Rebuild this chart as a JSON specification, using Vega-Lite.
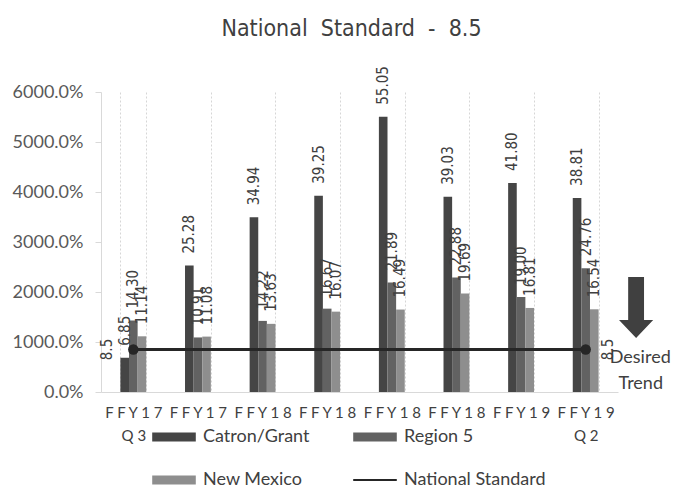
{
  "$schema": "https://vega.github.io/schema/vega-lite/v6.json",
  "width": 517,
  "height": 300,
  "autosize": {"type": "none"},
  "padding": {"left": 101, "top": 92, "right": 57, "bottom": 99},
  "background": "white",
  "title": {
    "text": "National\u00a0 Standard\u00a0 -\u00a0 8.5",
    "font": "DejaVu Sans Condensed",
    "fontSize": 23,
    "fontWeight": "normal",
    "color": "#404040",
    "anchor": "middle",
    "dx": -8,
    "offset": 25
  },
  "datasets": {
    "bars": [
      {"quarter": "FFY17 Q3", "series": "Catron/Grant", "value": 6.85},
      {"quarter": "FFY17 Q3", "series": "Region 5", "value": 14.30},
      {"quarter": "FFY17 Q3", "series": "New Mexico", "value": 11.14},
      {"quarter": "FFY17 Q4", "series": "Catron/Grant", "value": 25.28},
      {"quarter": "FFY17 Q4", "series": "Region 5", "value": 10.91},
      {"quarter": "FFY17 Q4", "series": "New Mexico", "value": 11.08},
      {"quarter": "FFY18 Q1", "series": "Catron/Grant", "value": 34.94},
      {"quarter": "FFY18 Q1", "series": "Region 5", "value": 14.22},
      {"quarter": "FFY18 Q1", "series": "New Mexico", "value": 13.63},
      {"quarter": "FFY18 Q2", "series": "Catron/Grant", "value": 39.25},
      {"quarter": "FFY18 Q2", "series": "Region 5", "value": 16.67},
      {"quarter": "FFY18 Q2", "series": "New Mexico", "value": 16.07},
      {"quarter": "FFY18 Q3", "series": "Catron/Grant", "value": 55.05},
      {"quarter": "FFY18 Q3", "series": "Region 5", "value": 21.89},
      {"quarter": "FFY18 Q3", "series": "New Mexico", "value": 16.49},
      {"quarter": "FFY18 Q4", "series": "Catron/Grant", "value": 39.03},
      {"quarter": "FFY18 Q4", "series": "Region 5", "value": 22.88},
      {"quarter": "FFY18 Q4", "series": "New Mexico", "value": 19.69},
      {"quarter": "FFY19 Q1", "series": "Catron/Grant", "value": 41.80},
      {"quarter": "FFY19 Q1", "series": "Region 5", "value": 19.00},
      {"quarter": "FFY19 Q1", "series": "New Mexico", "value": 16.81},
      {"quarter": "FFY19 Q2", "series": "Catron/Grant", "value": 38.81},
      {"quarter": "FFY19 Q2", "series": "Region 5", "value": 24.76},
      {"quarter": "FFY19 Q2", "series": "New Mexico", "value": 16.54}
    ],
    "national": [
      {"quarter": "FFY17 Q3", "value": 8.5},
      {"quarter": "FFY17 Q4", "value": 8.5},
      {"quarter": "FFY18 Q1", "value": 8.5},
      {"quarter": "FFY18 Q2", "value": 8.5},
      {"quarter": "FFY18 Q3", "value": 8.5},
      {"quarter": "FFY18 Q4", "value": 8.5},
      {"quarter": "FFY19 Q1", "value": 8.5},
      {"quarter": "FFY19 Q2", "value": 8.5}
    ]
  },
  "config": {
    "view": {"stroke": null},
    "font": "Lato"
  },
  "resolve": {"scale": {"x": "independent"}},
  "layer": [
    {
      "layer": [
        {
          "data": {"name": "bars"},
          "mark": {"type": "bar"},
          "encoding": {
            "x": {
              "field": "quarter",
              "type": "nominal",
              "scale": {
                "domain": ["FFY17 Q3", "FFY17 Q4", "FFY18 Q1", "FFY18 Q2", "FFY18 Q3", "FFY18 Q4", "FFY19 Q1", "FFY19 Q2"],
                "paddingInner": 0.6,
                "paddingOuter": 0.3
              },
              "axis": {
                "title": null,
                "labelAngle": 0,
                "tickBand": "extent",
                "ticks": false,
                "grid": true,
                "gridColor": "#d6d6d6",
                "gridDash": [2, 2],
                "gridWidth": 1,
                "domainColor": "#d9d9d9",
                "labelFont": "Lato",
                "labelFontSize": 15,
                "labelColor": "#404040",
                "labelPadding": 13,
                "labelLineHeight": 23,
                "labelBaseline": "top",
                "labelExpr": "(datum.label == 'FFY17 Q3' || datum.label == 'FFY19 Q2') ? [join(split(split(datum.label, ' ')[0], ''), ' '), join(split(split(datum.label, ' ')[1], ''), ' ')] : join(split(split(datum.label, ' ')[0], ''), ' ')"
              }
            },
            "xOffset": {
              "field": "series",
              "type": "nominal",
              "scale": {"domain": ["Catron/Grant", "Region 5", "New Mexico"], "paddingInner": 0, "paddingOuter": 0}
            },
            "y": {
              "field": "value",
              "type": "quantitative",
              "scale": {"domain": [0, 60], "nice": false},
              "axis": {
                "title": null,
                "format": ".1%",
                "values": [0, 10, 20, 30, 40, 50, 60],
                "labelOverlap": false,
                "grid": false,
                "domainColor": "#d9d9d9",
                "tickColor": "#d9d9d9",
                "tickSize": 6,
                "labelPadding": 12,
                "labelFont": "Lato",
                "labelFontSize": 18,
                "labelColor": "#595959"
              }
            },
            "color": {
              "field": "series",
              "type": "nominal",
              "scale": {
                "domain": ["Catron/Grant", "Region 5", "New Mexico", "National Standard"],
                "range": ["#454545", "#626262", "#8e8e8e", "#262626"]
              },
              "legend": {
                "title": null,
                "orient": "none",
                "legendX": 51,
                "legendY": 323,
                "direction": "horizontal",
                "columns": 2,
                "columnPadding": 43,
                "rowPadding": 12,
                "symbolType": "M-1,-0.21H1V0.21H-1Z",
                "symbolSize": 1900,
                "symbolStrokeWidth": 0,
                "symbolOpacity": 1,
                "labelFont": "Lato",
                "labelFontSize": 18,
                "labelColor": "#404040",
                "labelOffset": 7,
                "labelLimit": 300,
                "encode": {
                  "symbols": {
                    "update": {
                      "shape": {"signal": "datum.label == 'National Standard' ? 'M-1,-0.05H1V0.05H-1Z' : 'M-1,-0.21H1V0.21H-1Z'"}
                    }
                  }
                }
              }
            }
          }
        },
        {
          "data": {"name": "bars"},
          "mark": {
            "type": "text",
            "angle": 270,
            "align": "left",
            "baseline": "middle",
            "dx": 12,
            "font": "DejaVu Sans Condensed",
            "fontSize": 15,
            "color": "#404040"
          },
          "encoding": {
            "x": {"field": "quarter", "type": "nominal"},
            "xOffset": {"field": "series", "type": "nominal"},
            "y": {"field": "value", "type": "quantitative"},
            "text": {"field": "value", "type": "quantitative", "format": ".2f"}
          }
        },
        {
          "data": {"name": "national"},
          "mark": {"type": "line", "color": "#262626", "strokeWidth": 3},
          "encoding": {
            "x": {"field": "quarter", "type": "nominal"},
            "y": {"field": "value", "type": "quantitative"}
          }
        },
        {
          "data": {"name": "national"},
          "transform": [{"filter": "datum.quarter == 'FFY17 Q3' || datum.quarter == 'FFY19 Q2'"}],
          "mark": {"type": "circle", "color": "#262626", "opacity": 1, "size": 110},
          "encoding": {
            "x": {"field": "quarter", "type": "nominal"},
            "y": {"field": "value", "type": "quantitative"}
          }
        },
        {
          "data": {"name": "national"},
          "transform": [{"filter": "datum.quarter == 'FFY17 Q3'"}],
          "mark": {
            "type": "text",
            "angle": 270,
            "align": "center",
            "baseline": "middle",
            "dy": -26,
            "font": "DejaVu Sans Condensed",
            "fontSize": 15,
            "color": "#404040"
          },
          "encoding": {
            "x": {"field": "quarter", "type": "nominal"},
            "y": {"field": "value", "type": "quantitative"},
            "text": {"field": "value", "type": "quantitative", "format": ".1f"}
          }
        },
        {
          "data": {"name": "national"},
          "transform": [{"filter": "datum.quarter == 'FFY19 Q2'"}],
          "mark": {
            "type": "text",
            "angle": 270,
            "align": "center",
            "baseline": "middle",
            "dy": 22,
            "font": "DejaVu Sans Condensed",
            "fontSize": 15,
            "color": "#404040"
          },
          "encoding": {
            "x": {"field": "quarter", "type": "nominal"},
            "y": {"field": "value", "type": "quantitative"},
            "text": {"field": "value", "type": "quantitative", "format": ".1f"}
          }
        }
      ]
    },
    {
      "data": {"values": [{}]},
      "layer": [
        {
          "mark": {
            "type": "point",
            "shape": "M-0.26,-1H0.26V0.41H0.56L0,1L-0.56,0.41H-0.26Z",
            "filled": true,
            "color": "#404040",
            "opacity": 1,
            "size": 3721
          },
          "encoding": {
            "x": {"datum": 1.035, "type": "quantitative", "scale": {"domain": [0, 1], "nice": false, "zero": false}, "axis": null},
            "y": {"datum": 16.9, "type": "quantitative"}
          }
        },
        {
          "mark": {"type": "text", "font": "Lato", "fontSize": 18, "color": "#404040", "align": "center", "baseline": "middle", "text": "Desired"},
          "encoding": {
            "x": {"datum": 1.043, "type": "quantitative"},
            "y": {"datum": 6.8, "type": "quantitative"}
          }
        },
        {
          "mark": {"type": "text", "font": "Lato", "fontSize": 18, "color": "#404040", "align": "center", "baseline": "middle", "text": "Trend"},
          "encoding": {
            "x": {"datum": 1.044, "type": "quantitative"},
            "y": {"datum": 1.6, "type": "quantitative"}
          }
        }
      ]
    }
  ]
}
